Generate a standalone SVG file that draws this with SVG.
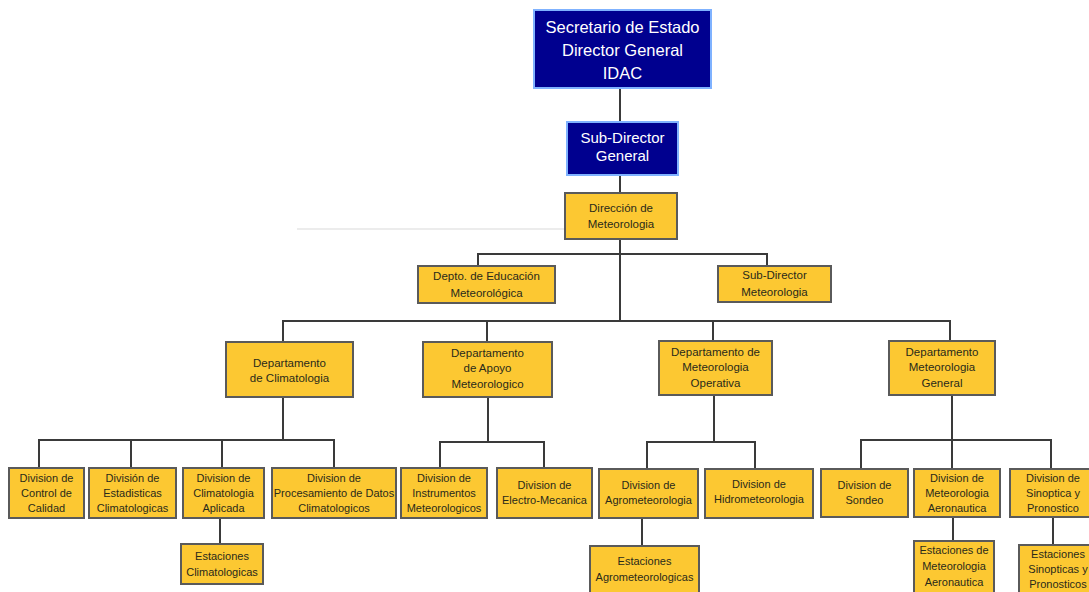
<svg xmlns="http://www.w3.org/2000/svg" width="1089" height="592" viewBox="0 0 1089 592">
<style>
.blue{fill:#00008f;stroke:#7fb2ff;stroke-width:2}
.yel{fill:#fcc832;stroke:#5a5a5a;stroke-width:2}
.wt{fill:#ffffff;font-family:"Liberation Sans",Arial,sans-serif;text-anchor:middle}
.t{fill:#2a2a1a;font-family:"Liberation Sans",Arial,sans-serif;font-size:11.5px;text-anchor:middle}
.s{font-size:11px}
.c line{stroke:#3a3a3a;stroke-width:2}
</style>
<rect width="1089" height="592" fill="#ffffff"/>
<line x1="297" y1="229" x2="565" y2="229" stroke="#ececec" stroke-width="2"/>
<g class="c">
<line x1="620" y1="88" x2="620" y2="122"/>
<line x1="620" y1="175" x2="620" y2="193"/>
<line x1="620" y1="239" x2="620" y2="321"/>
<line x1="477" y1="254" x2="768" y2="254"/>
<line x1="478" y1="254" x2="478" y2="266"/>
<line x1="767" y1="254" x2="767" y2="266"/>
<line x1="282" y1="321" x2="951" y2="321"/>
<line x1="283" y1="321" x2="283" y2="342"/>
<line x1="487" y1="321" x2="487" y2="342"/>
<line x1="713" y1="321" x2="713" y2="341"/>
<line x1="950" y1="321" x2="950" y2="341"/>
<line x1="283" y1="397" x2="283" y2="440"/>
<line x1="38" y1="440" x2="335" y2="440"/>
<line x1="39" y1="440" x2="39" y2="468"/>
<line x1="131" y1="440" x2="131" y2="468"/>
<line x1="222" y1="440" x2="222" y2="468"/>
<line x1="334" y1="440" x2="334" y2="468"/>
<line x1="488" y1="397" x2="488" y2="442"/>
<line x1="439" y1="442" x2="545" y2="442"/>
<line x1="440" y1="442" x2="440" y2="468"/>
<line x1="544" y1="442" x2="544" y2="468"/>
<line x1="714" y1="395" x2="714" y2="442"/>
<line x1="646" y1="442" x2="756" y2="442"/>
<line x1="647" y1="442" x2="647" y2="469"/>
<line x1="755" y1="442" x2="755" y2="469"/>
<line x1="952" y1="395" x2="952" y2="440"/>
<line x1="860" y1="440" x2="1052" y2="440"/>
<line x1="861" y1="440" x2="861" y2="469"/>
<line x1="952" y1="440" x2="952" y2="469"/>
<line x1="1051" y1="440" x2="1051" y2="469"/>
<line x1="220" y1="518" x2="220" y2="544"/>
<line x1="642" y1="518" x2="642" y2="546"/>
<line x1="953" y1="517" x2="953" y2="541"/>
<line x1="1053" y1="517" x2="1053" y2="545"/>
</g>
<g id="secretario"><rect class="blue" x="534" y="10" width="177" height="78"/>
<text class="wt" font-size="16.5" x="622.5"><tspan x="622.5" y="33">Secretario de Estado</tspan><tspan x="622.5" y="56">Director General</tspan><tspan x="622.5" y="79">IDAC</tspan></text></g>
<g id="subdirector-general"><rect class="blue" x="567" y="122" width="111" height="53"/>
<text class="wt" font-size="15" x="622.5"><tspan x="622.5" y="143">Sub-Director</tspan><tspan x="622.5" y="161">General</tspan></text></g>
<g id="direccion"><rect class="yel" x="565" y="193" width="112" height="46"/>
<text class="t" x="621"><tspan x="621" y="212">Dirección de</tspan><tspan x="621" y="228">Meteorologia</tspan></text></g>
<g id="depto-educacion"><rect class="yel" x="418" y="266" width="137" height="37"/>
<text class="t"><tspan x="486.5" y="280">Depto. de Educación</tspan><tspan x="486.5" y="297">Meteorológica</tspan></text></g>
<g id="subdirector-met"><rect class="yel" x="718" y="266" width="113" height="36"/>
<text class="t"><tspan x="774.5" y="279">Sub-Director</tspan><tspan x="774.5" y="296">Meteorologia</tspan></text></g>
<g id="dep-climatologia"><rect class="yel" x="226" y="342" width="127" height="55"/>
<text class="t"><tspan x="289.5" y="367">Departamento</tspan><tspan x="289.5" y="382">de Climatologia</tspan></text></g>
<g id="dep-apoyo"><rect class="yel" x="423" y="342" width="129" height="55"/>
<text class="t"><tspan x="487.5" y="357">Departamento</tspan><tspan x="487.5" y="372">de Apoyo</tspan><tspan x="487.5" y="388">Meteorologico</tspan></text></g>
<g id="dep-operativa"><rect class="yel" x="659" y="341" width="113" height="54"/>
<text class="t"><tspan x="715.5" y="356">Departamento de</tspan><tspan x="715.5" y="371">Meteorologia</tspan><tspan x="715.5" y="387">Operativa</tspan></text></g>
<g id="dep-general"><rect class="yel" x="889" y="341" width="106" height="54"/>
<text class="t"><tspan x="942" y="356">Departamento</tspan><tspan x="942" y="371">Meteorologia</tspan><tspan x="942" y="387">General</tspan></text></g>
<g id="div-control"><rect class="yel" x="9" y="468" width="75" height="50"/>
<text class="t s"><tspan x="46.5" y="482">Division de</tspan><tspan x="46.5" y="497">Control de</tspan><tspan x="46.5" y="512">Calidad</tspan></text></g>
<g id="div-estadisticas"><rect class="yel" x="89" y="468" width="87" height="50"/>
<text class="t s"><tspan x="132.5" y="482">División de</tspan><tspan x="132.5" y="497">Estadisticas</tspan><tspan x="132.5" y="512">Climatologicas</tspan></text></g>
<g id="div-clim-aplicada"><rect class="yel" x="183" y="468" width="81" height="50"/>
<text class="t s"><tspan x="223.5" y="482">Division de</tspan><tspan x="223.5" y="497">Climatologia</tspan><tspan x="223.5" y="512">Aplicada</tspan></text></g>
<g id="div-procesamiento"><rect class="yel" x="272" y="468" width="124" height="50"/>
<text class="t s"><tspan x="334" y="482">Division de</tspan><tspan x="334" y="497">Procesamiento de Datos</tspan><tspan x="334" y="512">Climatologicos</tspan></text></g>
<g id="div-instrumentos"><rect class="yel" x="401" y="468" width="86" height="50"/>
<text class="t s"><tspan x="444" y="482">Division de</tspan><tspan x="444" y="497">Instrumentos</tspan><tspan x="444" y="512">Meteorologicos</tspan></text></g>
<g id="div-electro"><rect class="yel" x="497" y="468" width="95" height="50"/>
<text class="t s"><tspan x="544.5" y="489">Division de</tspan><tspan x="544.5" y="504">Electro-Mecanica</tspan></text></g>
<g id="div-agro"><rect class="yel" x="599" y="469" width="99" height="49"/>
<text class="t s"><tspan x="648.5" y="489">Division de</tspan><tspan x="648.5" y="504">Agrometeorologia</tspan></text></g>
<g id="div-hidro"><rect class="yel" x="705" y="469" width="108" height="49"/>
<text class="t s"><tspan x="759" y="488">Division de</tspan><tspan x="759" y="503">Hidrometeorologia</tspan></text></g>
<g id="div-sondeo"><rect class="yel" x="821" y="469" width="87" height="48"/>
<text class="t s"><tspan x="864.5" y="489">Division de</tspan><tspan x="864.5" y="504">Sondeo</tspan></text></g>
<g id="div-aeronautica"><rect class="yel" x="914" y="469" width="86" height="48"/>
<text class="t s"><tspan x="957" y="482">Division de</tspan><tspan x="957" y="497">Meteorologia</tspan><tspan x="957" y="512">Aeronautica</tspan></text></g>
<g id="div-sinoptica"><rect class="yel" x="1010" y="469" width="86" height="48"/>
<text class="t s"><tspan x="1053" y="482">Division de</tspan><tspan x="1053" y="497">Sinoptica y</tspan><tspan x="1053" y="512">Pronostico</tspan></text></g>
<g id="est-clim"><rect class="yel" x="181" y="544" width="82" height="40"/>
<text class="t s"><tspan x="222" y="560">Estaciones</tspan><tspan x="222" y="576">Climatologicas</tspan></text></g>
<g id="est-agro"><rect class="yel" x="590" y="546" width="109" height="50"/>
<text class="t s"><tspan x="644.5" y="565">Estaciones</tspan><tspan x="644.5" y="581">Agrometeorologicas</tspan></text></g>
<g id="est-aero"><rect class="yel" x="914" y="541" width="80" height="55"/>
<text class="t s"><tspan x="954" y="554">Estaciones de</tspan><tspan x="954" y="570">Meteorologia</tspan><tspan x="954" y="586">Aeronautica</tspan></text></g>
<g id="est-sinop"><rect class="yel" x="1019" y="545" width="78" height="51"/>
<text class="t s"><tspan x="1058" y="558">Estaciones</tspan><tspan x="1058" y="573">Sinopticas y</tspan><tspan x="1058" y="588">Pronosticos</tspan></text></g>
</svg>
